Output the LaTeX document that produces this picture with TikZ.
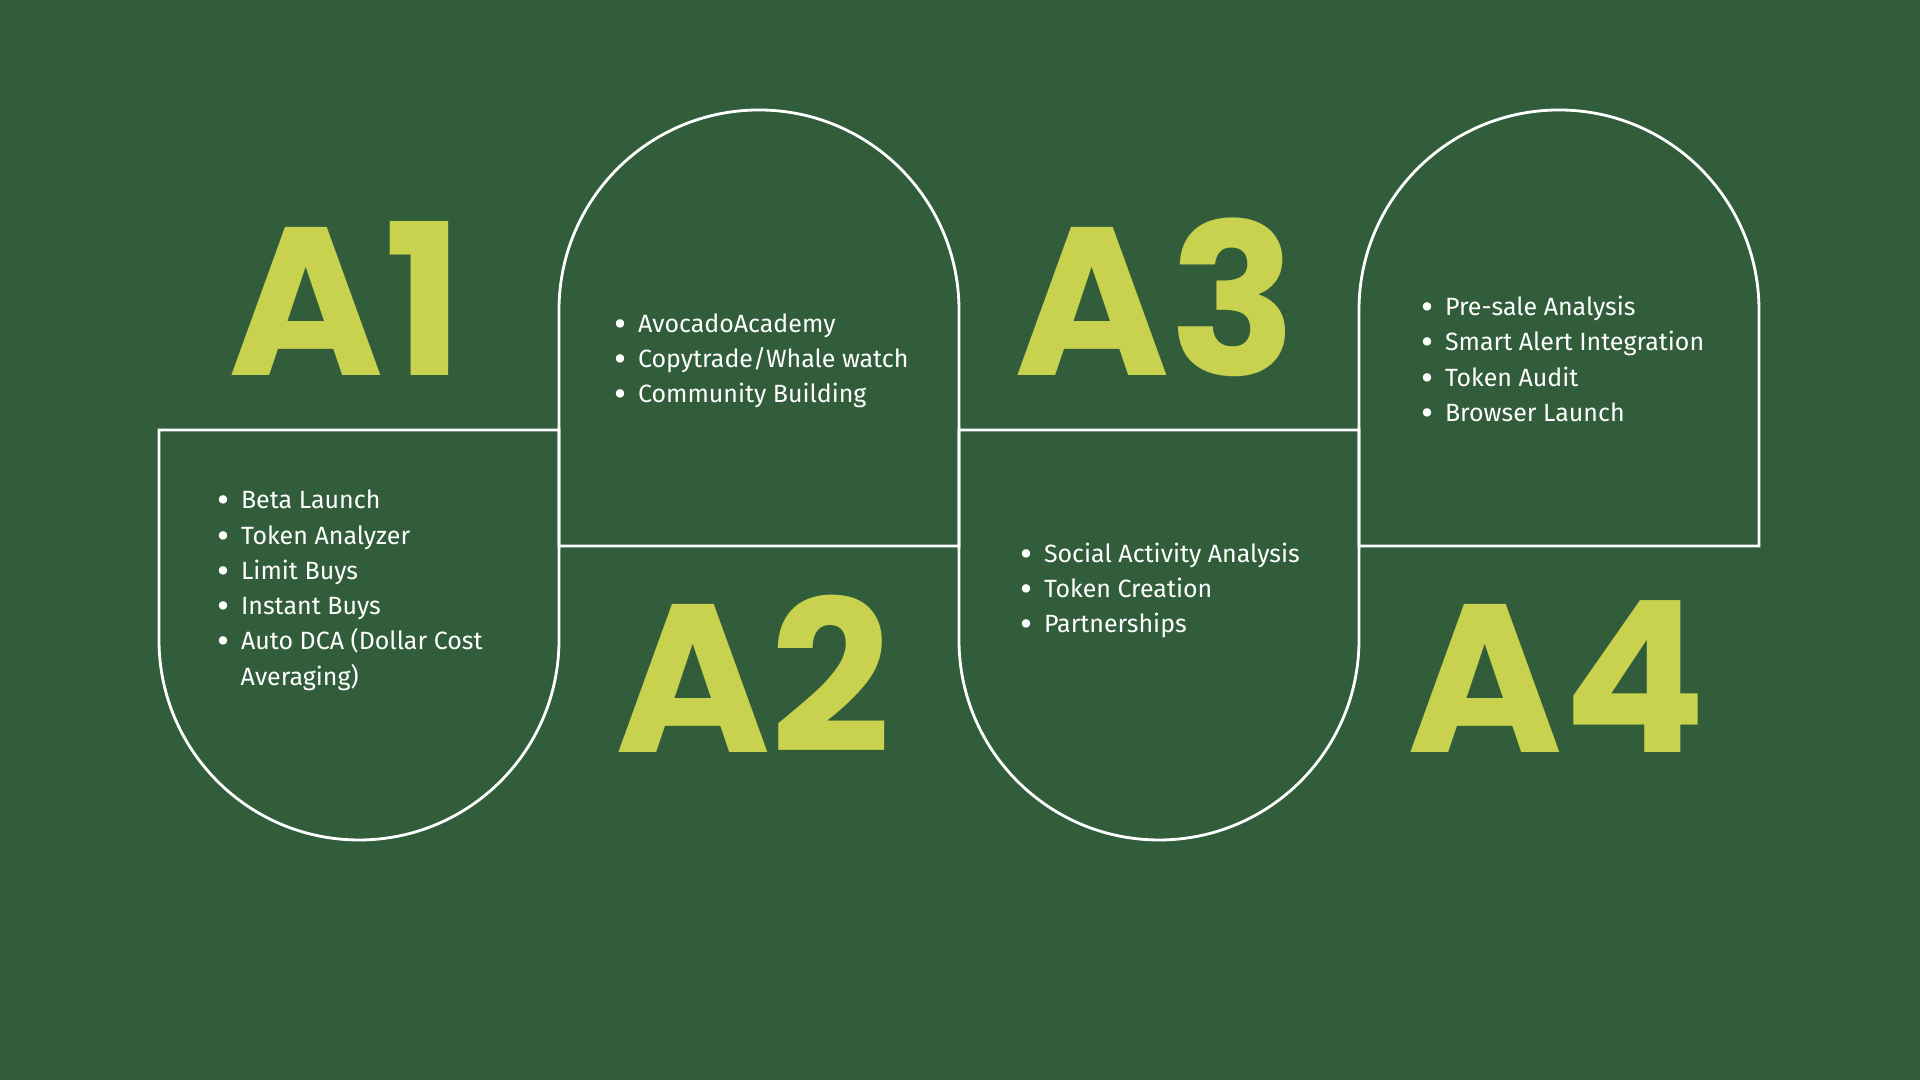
\documentclass[tikz,border=0pt]{standalone}
\usepackage{fontspec}
\setmainfont{Fira Sans}
\newfontfamily\bigfont{Poppins}
\definecolor{bggreen}{HTML}{315D3B}
\definecolor{lime}{HTML}{C9D24F}
\tikzset{
  outline/.style={draw=white,line width=0.8pt,line join=miter},
  bignum/.style={text=lime,font=\bigfont\bfseries\fontsize{60}{60}\selectfont,anchor=base,inner sep=0pt},
  itemtxt/.style={text=white,font=\fontsize{7.1}{8.5}\selectfont,anchor=base west,inner sep=0pt}
}
\newcommand{\bulletitem}[1]{\makebox[5.5pt][l]{\hspace*{-1.3pt}\raisebox{-0.9pt}{\fontsize{10.5}{10.5}\selectfont\textbullet}}#1}
\begin{document}
\begin{tikzpicture}[x=0.01cm,y=0.01cm]
\fill[bggreen] (0,0) rectangle (1920,1080);
\useasboundingbox (0,0) rectangle (1920,1080);
% cups below the line, arches above it
\foreach \l in {159,959} \draw[outline] (\l,650) -- ++(400,0) -- ++(0,-210) arc[start angle=0,end angle=-180,radius=200] -- cycle;
\foreach \l in {559,1359} \draw[outline] (\l,534) -- ++(0,236) arc[start angle=180,end angle=0,radius=200] -- ++(0,-236) -- cycle;
% big step labels
\foreach \x/\y/\lab in {346/704/A1,753/327/A2,1156/704/A3,1557/327/A4} \node[bignum] (\lab) at (\x,\y) {\lab};
% bullet lists
\foreach \x/\y/\txt [count=\i] in {221/571/Beta Launch,221/535/Token Analyzer,221/500/Limit Buys,221/465/Instant Buys,221/430/Auto DCA (Dollar Cost,
  618/747/AvocadoAcademy,618/712/{Copytrade/Whale watch},618/677/Community Building,
  1024/517/Social Activity Analysis,1024/482/Token Creation,1024/447/Partnerships,
  1425/764/Pre-sale Analysis,1425/729/Smart Alert Integration,1425/693/Token Audit,1425/658/Browser Launch}
  \node[itemtxt] (item-\i) at (\x,\y) {\bulletitem{\txt}};
\node[itemtxt] (item-5b) at (240,394) {Averaging)};
\end{tikzpicture}
\end{document}
